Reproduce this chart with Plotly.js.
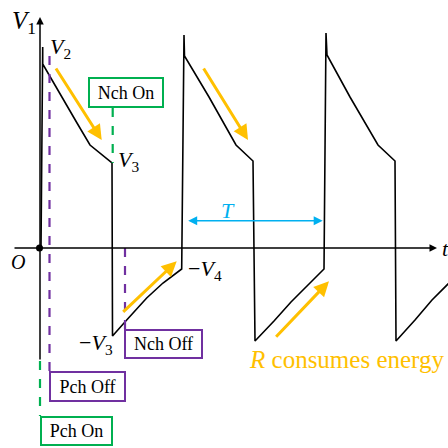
<!DOCTYPE html>
<html>
<head>
<meta charset="utf-8">
<script src="https://cdn.plot.ly/plotly-3.0.1.min.js"></script>
<style>html,body{margin:0;padding:0;background:#fff}#chart{width:448px;height:448px}</style>
</head>
<body>
<div id="chart"></div>
<script>
// Waveform V1(t): time and voltage samples (arbitrary units)
const tWave = [1.5, 3.2, 3.2, 37.5, 50.5, 72.5, 73, 87.2, 107.2, 123.5, 142.2,
               144.5, 145, 169.5, 184.5, 196.5, 213.5, 215.5, 234.5, 251.5, 267.5, 284.5,
               286.5, 287.5, 310.5, 338.5, 355.5, 356.5, 375.5, 392.5, 410.5];
const vWave = [0, 201, 184, 125, 103, 85, -88, -72, -50, -35, -21,
               213, 192, 151, 124, 103, 87, -93, -73, -54, -38, -21,
               215, 193, 151, 103, 87, -93, -72, -52, -34];
// Labels
const levelLabels = ["<i>V</i><sub>1</sub>", "<i>V</i><sub>2</sub>", "<i>V</i><sub>3</sub>", "−<i>V</i><sub>4</sub>", "−<i>V</i><sub>3</sub>"];
const switchLabels = ["Nch On", "Nch Off", "Pch Off", "Pch On"];
const periodLabel = "<i>T</i>";
const energyLabel = "<i>R</i> consumes energy";

const YEL = "#FFC000", PUR = "#7030A0", GRN = "#00B050", BLU = "#00B0F0";
const serif = "Liberation Serif, Times New Roman, serif";

const traces = [
  {x: tWave, y: vWave, mode: "lines", line: {color: "#000", width: 1.6}, hoverinfo: "skip"},
  {x: [0], y: [0], mode: "markers", marker: {color: "#000", size: 7}, hoverinfo: "skip"}
];

function arrow(x0, y0, x1, y1, color, w, side) {
  return {x: x1, y: y1, ax: x0, ay: y0, xref: "x", yref: "y", axref: "x", ayref: "y",
    text: "", showarrow: true, arrowhead: 2, arrowsize: side ? 1.2 : 1, arrowwidth: w,
    arrowcolor: color, arrowside: side || "end", startarrowhead: 2, startarrowsize: 1.2, standoff: 0, startstandoff: 0};
}
function label(x, y, text, size, color) {
  return {x: x, y: y, xref: "x", yref: "y", text: text, showarrow: false,
    font: {family: serif, size: size, color: color || "#000"}};
}
function box(x, y, text, color, w, h) {
  return {x: x, y: y, xref: "x", yref: "y", text: text, showarrow: false,
    font: {family: serif, size: 18, color: "#000"}, bordercolor: color, borderwidth: 2,
    borderpad: 0, bgcolor: "#fff", width: w, height: h};
}

const annotations = [
  arrow(-26.5, 0, 397.5, 0, "#000", 1.5),
  arrow(0.5, -113, 0.5, 231, "#000", 1.5),
  arrow(15.5, 181, 62.2, 108, YEL, 3),
  arrow(163.2, 181, 208.5, 108, YEL, 3),
  arrow(82.2, -65.3, 137.2, -13.3, YEL, 3),
  arrow(235.2, -90.3, 289.5, -33.3, YEL, 3),
  arrow(147.2, 27.3, 283.2, 27.3, BLU, 1.5, "end+start"),
  label(-15.5, 226, levelLabels[0], 25),
  label(21, 200, levelLabels[1], 22),
  label(88.5, 87, levelLabels[2], 22),
  label(165.5, -22, levelLabels[3], 22),
  label(56, -96, levelLabels[4], 22),
  label(-22, -13.5, "<i>O</i>", 20),
  label(405.5, 0, "<i>t</i>", 22),
  label(188.5, 38, periodLabel, 22, BLU),
  label(307, -111, energyLabel, 25, YEL),
  box(86.8, 155.2, switchLabels[0], GRN, 72, 27),
  box(124.3, -96, switchLabels[1], PUR, 75, 26),
  box(48.2, -138.5, switchLabels[2], PUR, 73, 27),
  box(36.9, -183, switchLabels[3], GRN, 69, 26)
];

function dash(x, y0, y1, color) {
  return {type: "line", xref: "x", yref: "y", x0: x, x1: x, y0: y0, y1: y1,
    line: {color: color, width: 2.2, dash: "dash"}};
}
const shapes = [
  dash(10, 192, -123, PUR),
  dash(73.2, 140, 85, GRN),
  dash(85.5, 0, -81, PUR),
  dash(0.5, -113, -168, GRN)
];

const layout = {
  width: 448, height: 448, margin: {l: 0, r: 0, t: 0, b: 0},
  paper_bgcolor: "#fff", plot_bgcolor: "#fff", showlegend: false,
  xaxis: {range: [-39.5, 408.5], visible: false, fixedrange: true},
  yaxis: {range: [-200, 248], visible: false, fixedrange: true},
  annotations: annotations, shapes: shapes
};
Plotly.newPlot("chart", traces, layout, {staticPlot: true, displayModeBar: false});
</script>
</body>
</html>
